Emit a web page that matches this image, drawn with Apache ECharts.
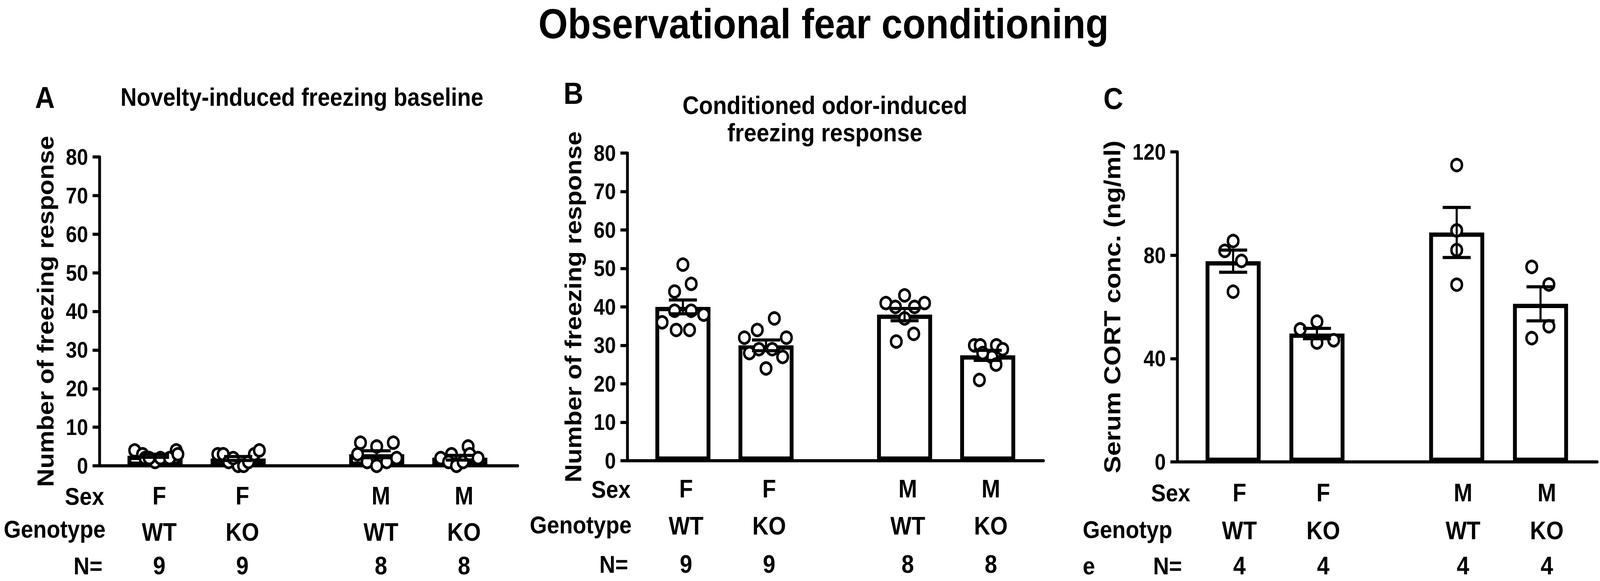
<!DOCTYPE html>
<html>
<head>
<meta charset="utf-8">
<title>Observational fear conditioning</title>
<script src="https://cdn.jsdelivr.net/npm/echarts@6/dist/echarts.min.js"></script>
<style>
  html, body { margin: 0; padding: 0; background: #fff; overflow: hidden; }
  #wrap { width: 100vw; height: 100vh; overflow: hidden; }
  #chart { width: 4562px; height: 1488px; transform-origin: 0 0; }
</style>
</head>
<body>
<div id="wrap"><div id="chart"></div></div>
<script>
// group positions on the x axis (pairs F and M with a gap between them)
var groupPos = [1, 2, 3.667, 4.667];
var sexLabels = ['F', 'F', 'M', 'M'];
var genoLabels = ['WT', 'KO', 'WT', 'KO'];
var nA = [9, 9, 8, 8];
var nB = [9, 9, 8, 8];
var nC = [4, 4, 4, 4];

// A: novelty-induced freezing baseline
var meanA = [2.6, 1.9, 3.0, 2.1];
var semA = [0.4, 0.5, 0.9, 0.6];
var ptsA = [
    [4, 3, 2, 1, 2, 2, 4, 3, 2],
    [3, 3, 1, 0, 0, 1, 3, 4, 2],
    [6, 5, 6, 3, 1, 0, 1, 2],
    [2, 3, 1, 0, 1, 5, 3, 2]
];
var jitA = [
    [-0.245, -0.15, -0.12, 0, 0.065, 0.175, 0.255, 0.275, -0.07],
    [-0.245, -0.18, -0.115, 0, 0.065, 0.125, 0.195, 0.255, -0.06],
    [-0.195, 0, 0.2, -0.23, -0.115, 0, 0.12, 0.24],
    [-0.23, -0.1, -0.135, -0.04, 0.04, 0.1, 0.12, 0.22]
];

// B: conditioned odor-induced freezing response
var meanB = [40.0, 30.0, 38.0, 27.4];
var semB = [1.8, 1.4, 1.6, 1.3];
var ptsB = [
    [51, 46, 44, 39, 39, 38, 36, 34, 34],
    [37, 34, 32, 32, 29, 29, 28, 27, 24],
    [43, 41, 41, 40, 40, 37, 33, 31],
    [30, 30, 30, 29, 27, 25, 21, 28]
];
var jitB = [
    [0, 0.1, -0.1, -0.1, 0.1, 0.25, -0.25, -0.08, 0.08],
    [0.1, -0.105, -0.26, 0.245, -0.085, 0.075, -0.2, 0.2, 0],
    [0, -0.225, 0.24, -0.11, 0.12, 0, 0.11, -0.1],
    [-0.16, -0.09, 0.105, 0.18, 0.05, 0.1, -0.1, -0.06]
];

// C: serum CORT
var meanC = [77.7, 49.7, 88.8, 61.2];
var semC = [4.3, 2.0, 9.7, 6.6];
var ptsC = [
    [85.5, 81.7, 77.8, 65.9],
    [54.3, 51.3, 46.2, 47.1],
    [114.9, 89.6, 82.0, 68.6],
    [75.5, 68.7, 52.5, 47.9]
];
var jitC = [
    [0, -0.1, 0.1, 0],
    [0, -0.2, 0, 0.2],
    [0, 0, 0, 0],
    [-0.105, 0.1, 0.1, -0.105]
];

var FONT = '"Liberation Sans", Arial, sans-serif';

function posIndex(v) {
    for (var i = 0; i < groupPos.length; i++) {
        if (Math.abs(groupPos[i] - v) < 1e-6) return i;
    }
    return -1;
}

// lh: heights of the three label rows (sex / genotype / N)
function makeXAxis(gi, min, max, ns, margin, lh, shift) {
    function row(h) {
        return {fontSize: 64, fontWeight: 'bold', fontFamily: FONT, color: '#000', lineHeight: h};
    }
    return {
        type: 'value', gridIndex: gi, min: min, max: max,
        splitLine: {show: false},
        axisTick: {show: false},
        axisLine: {show: true, onZero: false, lineStyle: {color: '#000', width: 8}},
        axisLabel: {
            customValues: groupPos,
            margin: margin,
            padding: [0, 0, 0, shift * 2],
            formatter: function (v) {
                var i = posIndex(v);
                if (i < 0) return '';
                return '{s|' + sexLabels[i] + '}\n{g|' + genoLabels[i] + '}\n{n|' + ns[i] + '}';
            },
            rich: {s: row(lh[0]), g: row(lh[1]), n: row(lh[2])}
        }
    };
}

function makeYAxis(gi, max, interval, name, nameSize, nameGap) {
    return {
        type: 'value', gridIndex: gi, min: 0, max: max, interval: interval,
        name: name, nameLocation: 'middle', nameGap: nameGap,
        nameTextStyle: {fontSize: nameSize, fontWeight: 'bold', fontFamily: FONT, color: '#000'},
        splitLine: {show: false},
        axisLine: {show: true, lineStyle: {color: '#000', width: 8}},
        axisTick: {show: true, length: 20, lineStyle: {color: '#000', width: 8}},
        axisLabel: {margin: 33, fontSize: 57, fontWeight: 'bold', fontFamily: FONT, color: '#000'}
    };
}

function panelSeries(gi, means, sems, pts, jit) {
    var barData = [], errData = [], dotData = [];
    for (var i = 0; i < groupPos.length; i++) {
        barData.push([groupPos[i], means[i]]);
        errData.push([groupPos[i], means[i], sems[i]]);
        for (var j = 0; j < pts[i].length; j++) {
            dotData.push([groupPos[i] + jit[i][j], pts[i][j]]);
        }
    }
    return [
        {
            type: 'bar', xAxisIndex: gi, yAxisIndex: gi, data: barData,
            barWidth: 157, z: 1,
            itemStyle: {color: '#fff', borderColor: '#000', borderWidth: 11}
        },
        {
            type: 'scatter', xAxisIndex: gi, yAxisIndex: gi, data: dotData,
            symbol: 'circle', symbolSize: 30, z: 2,
            itemStyle: {color: '#fff', borderColor: '#000', borderWidth: 7, opacity: 1}
        },
        {
            type: 'custom', xAxisIndex: gi, yAxisIndex: gi, data: errData, z: 3,
            renderItem: function (params, api) {
                var x = api.value(0), m = api.value(1), s = api.value(2);
                var hi = api.coord([x, m + s]);
                var lo = api.coord([x, m - s]);
                var half = 40;
                return {
                    type: 'group',
                    children: [
                        {type: 'line', shape: {x1: hi[0], y1: hi[1], x2: lo[0], y2: lo[1]},
                            style: {stroke: '#000', lineWidth: 6}},
                        {type: 'line', shape: {x1: hi[0] - half, y1: hi[1], x2: hi[0] + half, y2: hi[1]},
                            style: {stroke: '#000', lineWidth: 8}},
                        {type: 'line', shape: {x1: lo[0] - half, y1: lo[1], x2: lo[0] + half, y2: lo[1]},
                            style: {stroke: '#000', lineWidth: 8}}
                    ]
                };
            }
        }
    ];
}

function txt(text, x, y, size, align) {
    return {
        type: 'text', x: x, y: y, silent: true,
        style: {
            text: text, fill: '#000', align: align || 'left', verticalAlign: 'middle',
            font: 'bold ' + size + 'px ' + FONT
        }
    };
}

// the figure is laid out at 4562x1488; fit it into whatever window we get
var el = document.getElementById('chart');
var sx = window.innerWidth / 4562, sy = window.innerHeight / 1488;
el.style.transform = 'scale(' + sx + ',' + sy + ')';

var chart = echarts.init(el, null, {renderer: 'svg'});

var option = {
    animation: false,
    backgroundColor: '#fff',
    grid: [
        {left: 284, top: 402, width: 1192, height: 791},
        {left: 1789, top: 392, width: 1186, height: 788},
        {left: 3357, top: 389, width: 1197, height: 794}
    ],
    xAxis: [
        makeXAxis(0, 0.333, 5.363, nA, 38, [78, 108, 64], 12),
        makeXAxis(1, 0.333, 5.337, nB, 43, [58, 132, 64], 9),
        makeXAxis(2, 0.335, 5.343, nC, 40, [78, 116, 64], 18)
    ],
    yAxis: [
        makeYAxis(0, 80, 10, 'Number of freezing response', 65, 122),
        makeYAxis(1, 80, 10, 'Number of freezing response', 65, 122),
        makeYAxis(2, 120, 40, 'Serum CORT conc. (ng/ml)', 67, 153)
    ],
    series: []
        .concat(panelSeries(0, meanA, semA, ptsA, jitA))
        .concat(panelSeries(1, meanB, semB, ptsB, jitB))
        .concat(panelSeries(2, meanC, semC, ptsC, jitC)),
    graphic: [
        txt('Observational fear conditioning', 2348, 61, 108, 'center'),
        txt('A', 100, 250, 78),
        txt('Novelty-induced freezing baseline', 861, 249, 64, 'center'),
        txt('B', 1607, 239, 78),
        txt('Conditioned odor-induced', 2352, 269, 65, 'center'),
        txt('freezing response', 2352, 339, 65, 'center'),
        txt('C', 3146, 252, 78),
        // row headers of the table under each panel
        txt('Sex', 297, 1271, 63, 'right'),
        txt('Genotype', 301, 1355, 63, 'right'),
        txt('N=', 292, 1449, 63, 'right'),
        txt('Sex', 1798, 1253, 63, 'right'),
        txt('Genotype', 1801, 1344, 63, 'right'),
        txt('N=', 1791, 1445, 63, 'right'),
        txt('Sex', 3394, 1262, 63, 'right'),
        txt('Genotyp', 3087, 1356, 63, 'left'),
        txt('e', 3087, 1449, 63, 'left'),
        txt('N=', 3370, 1449, 63, 'right')
    ]
};

chart.setOption(option);
</script>
</body>
</html>
